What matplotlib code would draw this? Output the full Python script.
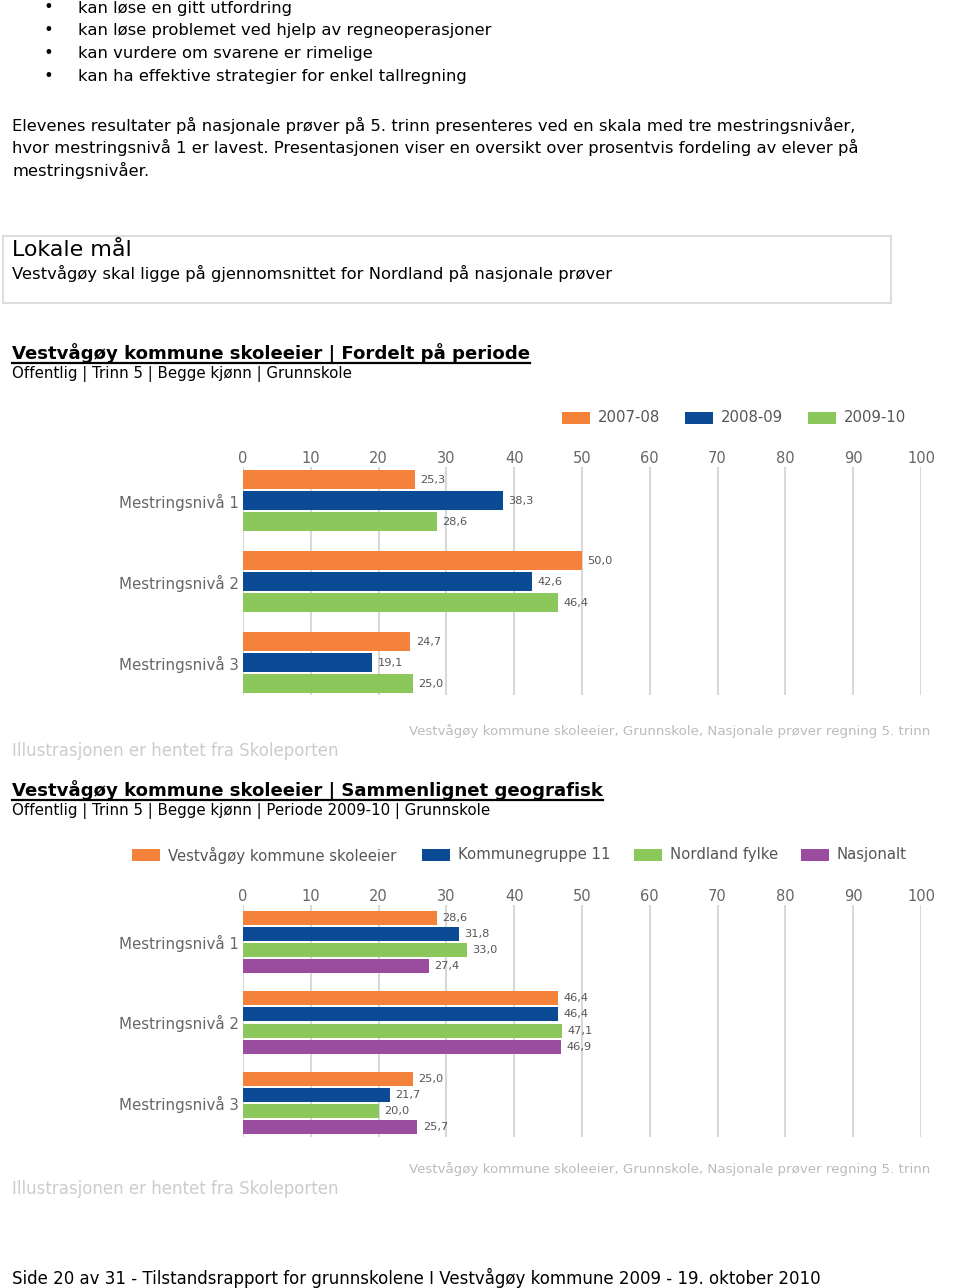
import matplotlib
matplotlib.use("Agg")
import matplotlib.pyplot as plt
from matplotlib.patches import Rectangle
from matplotlib.lines import Line2D

# ---------------- data ----------------
levels = ["Mestringsnivå 1", "Mestringsnivå 2", "Mestringsnivå 3"]

periods = ["2007-08", "2008-09", "2009-10"]
val_0708 = [25.3, 50.0, 24.7]
val_0809 = [38.3, 42.6, 19.1]
val_0910 = [28.6, 46.4, 25.0]

regions = ["Vestvågøy kommune skoleeier", "Kommunegruppe 11", "Nordland fylke", "Nasjonalt"]
val_vest = [28.6, 46.4, 25.0]
val_kg11 = [31.8, 46.4, 21.7]
val_nord = [33.0, 47.1, 20.0]
val_nasj = [27.4, 46.9, 25.7]

xticks = [0, 10, 20, 30, 40, 50, 60, 70, 80, 90, 100]

ORANGE = "#F5823A"
BLUE = "#0B4A94"
GREEN = "#8CC75B"
PURPLE = "#9A4D9E"
colors1 = [ORANGE, BLUE, GREEN]
colors2 = [ORANGE, BLUE, GREEN, PURPLE]

W, H = 960, 1288
fig = plt.figure(figsize=(W / 100, H / 100), dpi=100)
fig.patch.set_facecolor("white")

FONT = "DejaVu Sans"


def fx(x):
    return x / W


def fy(y):
    return 1 - y / H


def txt(x, y, s, size=11, color="black", weight="normal", ha="left", va="center"):
    return fig.text(fx(x), fy(y), s, fontsize=size, color=color, fontweight=weight,
                    ha=ha, va=va, family=FONT)


BODY = 11.8

# ---------------- top text ----------------
bullets = ["kan løse en gitt utfordring",
           "kan løse problemet ved hjelp av regneoperasjoner",
           "kan vurdere om svarene er rimelige",
           "kan ha effektive strategier for enkel tallregning"]
for i, b in enumerate(bullets):
    y = 8 + i * 22.7
    txt(44, y, "•", size=BODY)
    txt(78, y, b, size=BODY)

para = ["Elevenes resultater på nasjonale prøver på 5. trinn presenteres ved en skala med tre mestringsnivåer,",
        "hvor mestringsnivå 1 er lavest. Presentasjonen viser en oversikt over prosentvis fordeling av elever på",
        "mestringsnivåer."]
for i, p in enumerate(para):
    txt(12, 125 + i * 22.7, p, size=BODY)

# Lokale mål box
fig.add_artist(Rectangle((fx(3), fy(303)), fx(888), 67 / H, transform=fig.transFigure,
                         facecolor="white", edgecolor="#dddddd", lw=1.5))
txt(12, 250, "Lokale mål", size=15.9)
txt(12, 273, "Vestvågøy skal ligge på gjennomsnittet for Nordland på nasjonale prøver", size=BODY)

renderer = fig.canvas.get_renderer()


def heading(x, y, s):
    t = txt(x, y, s, size=13.1, weight="bold")
    bb = t.get_window_extent(renderer=renderer)
    fig.add_artist(Line2D([fx(x), fx(x) + bb.width / W], [fy(y + 10), fy(y + 10)],
                          transform=fig.transFigure, color="black", lw=1.6))


heading(12, 353, "Vestvågøy kommune skoleeier | Fordelt på periode")
txt(12, 374, "Offentlig | Trinn 5 | Begge kjønn | Grunnskole", size=10.85)

heading(12, 790, "Vestvågøy kommune skoleeier | Sammenlignet geografisk")
txt(12, 811, "Offentlig | Trinn 5 | Begge kjønn | Periode 2009-10 | Grunnskole", size=10.85)


# ---------------- legends ----------------
def legend_item(x, y, color, label):
    fig.add_artist(Rectangle((fx(x), fy(y + 6)), 28 / W, 12 / H, transform=fig.transFigure,
                             facecolor=color, edgecolor="none"))
    txt(x + 36, y, label, size=10.7, color="#555555")


for x, c, lab in zip([562, 685, 808], colors1, periods):
    legend_item(x, 418, c, lab)
for x, c, lab in zip([132, 422, 634, 801], colors2, regions):
    legend_item(x, 855, c, lab)


# ---------------- charts ----------------
def make_chart(top, bottom, series, cols, bar_h, step, ylim):
    ax = fig.add_axes([fx(243), fy(bottom), 678 / W, (bottom - top) / H])
    n = len(series)
    for k, (vals, c) in enumerate(zip(series, cols)):
        off = (k - (n - 1) / 2) * step
        ys = [g + off for g in range(len(levels))]
        ax.barh(ys, vals, height=bar_h, color=c, zorder=3)
        for yy, v in zip(ys, vals):
            ax.annotate(f"{v:.1f}".replace(".", ","), (v, yy), xytext=(4, 0),
                        textcoords="offset points", va="center", ha="left",
                        fontsize=8.2, color="#555555", family=FONT)
    ax.set_xlim(0, 100)
    ax.set_ylim(*ylim)
    ax.set_xticks(xticks)
    ax.xaxis.tick_top()
    ax.tick_params(axis="x", length=0, pad=1, labelsize=10.5, labelcolor="#666666")
    ax.set_yticks(range(len(levels)))
    ax.set_yticklabels(levels)
    ax.tick_params(axis="y", length=0, pad=3, labelsize=10.8, labelcolor="#666666")
    ax.grid(axis="x", color="#d8d8d8", lw=1.5, zorder=0)
    for s in ax.spines.values():
        s.set_visible(False)
    ax.set_facecolor("none")
    for lab in ax.get_xticklabels() + ax.get_yticklabels():
        lab.set_family(FONT)
    return ax


make_chart(467, 695, [val_0708, val_0809, val_0910], colors1, 0.235, 0.26, (2.40, -0.42))
make_chart(905, 1137, [val_vest, val_kg11, val_nord, val_nasj], colors2, 0.173, 0.2, (2.42, -0.457))

# captions
for y_ill, y_src in [(751, 731), (1189, 1169)]:
    txt(12, y_ill, "Illustrasjonen er hentet fra Skoleporten", size=11.95, color="#cccccc")
    txt(930, y_src, "Vestvågøy kommune skoleeier, Grunnskole, Nasjonale prøver regning 5. trinn",
        size=9.6, color="#bbbbbb", ha="right")

txt(12, 1278, "Side 20 av 31 - Tilstandsrapport for grunnskolene I Vestvågøy kommune 2009 - 19. oktober 2010",
    size=12.0)

fig.savefig("out.png", dpi=100, facecolor="white")
